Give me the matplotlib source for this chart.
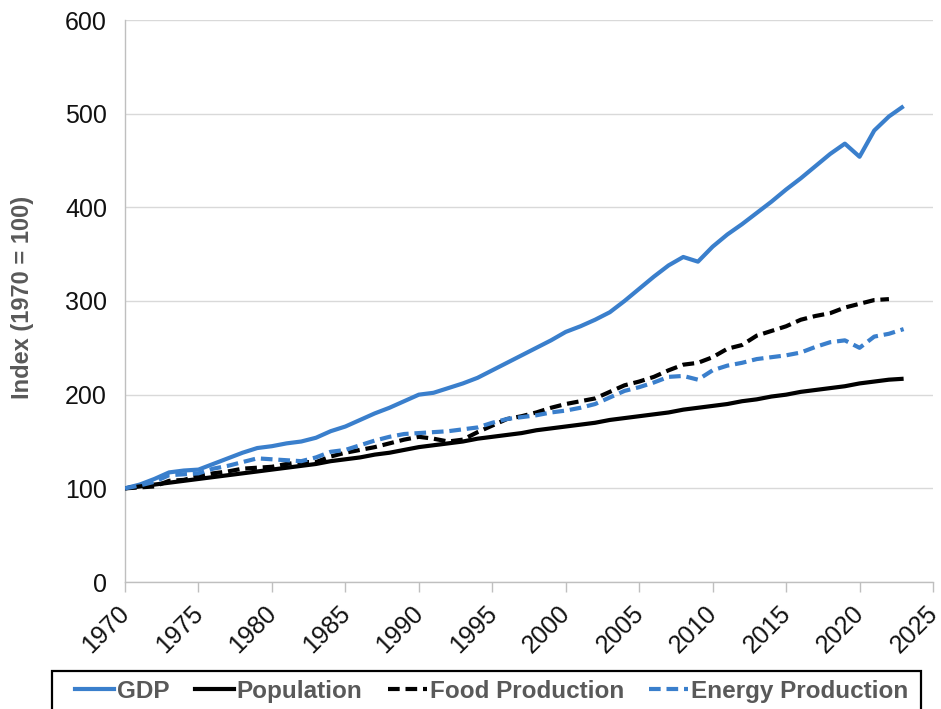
import matplotlib
matplotlib.use("Agg")
import matplotlib.pyplot as plt
from matplotlib.lines import Line2D
from matplotlib.patches import Rectangle
import matplotlib.transforms as mtransforms

years = list(range(1970, 2024))
gdp = [100, 104, 110, 117, 119, 120, 126, 132, 138, 143,
       145, 148, 150, 154, 161, 166, 173, 180, 186, 193,
       200, 202, 207, 212, 218, 226, 234, 242, 250, 258,
       267, 273, 280, 288, 300, 313, 326, 338, 347, 342,
       358, 371, 382, 394, 406, 419, 431, 444, 457, 468,
       454, 482, 497, 508]
population = [100, 102, 104, 106, 108, 110, 112, 114, 116, 118,
              120, 122, 124, 126, 129, 131, 133, 136, 138, 141,
              144, 146, 148, 150, 153, 155, 157, 159, 162, 164,
              166, 168, 170, 173, 175, 177, 179, 181, 184, 186,
              188, 190, 193, 195, 198, 200, 203, 205, 207, 209,
              212, 214, 216, 217]
food_years = list(range(1970, 2023))
food = [100, 101, 102, 108, 109, 113, 116, 118, 121, 122,
        123, 126, 128, 128, 134, 138, 141, 144, 148, 152,
        155, 153, 150, 152, 160, 167, 174, 177, 181, 186,
        190, 193, 196, 203, 210, 214, 219, 226, 232, 234,
        240, 249, 253, 263, 268, 273, 280, 284, 287, 293,
        297, 301, 302]
energy = [100, 103, 107, 114, 115, 116, 121, 124, 128, 132,
          131, 130, 129, 133, 139, 141, 146, 151, 155, 158,
          159, 160, 161, 163, 165, 170, 174, 176, 178, 181,
          183, 186, 190, 197, 204, 208, 213, 219, 220, 216,
          226, 231, 234, 238, 240, 242, 245, 251, 256, 258,
          250, 262, 265, 270]

series_labels = ["GDP", "Population", "Food Production", "Energy Production"]
xticks = list(range(1970, 2026, 5))
yticks = list(range(0, 601, 100))

BLUE = "#3a7fcc"
GRAY_TXT = "#595959"
LW = 3.0
DASH = (0, (2.8, 1.4))

plt.rcParams["font.family"] = ["Liberation Sans", "DejaVu Sans"]

W, H = 941, 709
fig = plt.figure(figsize=(W/100, H/100), dpi=100)
ax = fig.add_axes([125/W, 1-582/H, (933-125)/W, (582-20)/H])

ax.plot(years, gdp, color=BLUE, lw=LW, solid_capstyle="butt", zorder=3)
ax.plot(years, population, color="black", lw=LW, solid_capstyle="butt", zorder=3)
ax.plot(food_years, food, color="black", lw=LW, linestyle=DASH, dash_capstyle="butt", zorder=3)
ax.plot(years, energy, color=BLUE, lw=LW, linestyle=DASH, dash_capstyle="butt", zorder=4)

ax.set_xlim(1970, 2025)
ax.set_ylim(0, 600)
ax.set_xticks(xticks)
ax.set_yticks(yticks)
ax.set_xticklabels([str(t) for t in xticks], rotation=45, ha="right", va="center",
                   rotation_mode="anchor", fontsize=18, color="#111111")
ax.set_yticklabels([str(t) for t in yticks], fontsize=18, color="#111111")
ax.tick_params(axis="y", length=0, pad=13)
ax.tick_params(axis="x", length=7, width=1, color="#bfbfbf", pad=10)
offset = mtransforms.ScaledTranslation(0.01, -0.04, fig.dpi_scale_trans)
for lab in ax.get_xticklabels():
    lab.set_transform(lab.get_transform() + offset)
ax.grid(axis="y", color="#d9d9d9", lw=1)
ax.set_axisbelow(True)
for s in ["top", "right"]:
    ax.spines[s].set_visible(False)
for s in ["left", "bottom"]:
    ax.spines[s].set_color("#bfbfbf")
    ax.spines[s].set_linewidth(1)

ax.set_ylabel("Index (1970 = 100)", fontsize=17, fontweight="bold", color=GRAY_TXT)
ax.yaxis.set_label_coords(-(125-34)/808, (582-297)/562)

# legend frame (bottom edge falls outside the image, as in the reference)
fig.patches.append(Rectangle((52/W, -0.05), (921-52)/W, 0.05 + 1-671/H,
                             transform=fig.transFigure, fill=False,
                             edgecolor="black", linewidth=1.6, zorder=5))

handles = [
    Line2D([], [], color=BLUE, lw=LW),
    Line2D([], [], color="black", lw=LW),
    Line2D([], [], color="black", lw=LW, linestyle=DASH),
    Line2D([], [], color=BLUE, lw=LW, linestyle=DASH),
]
leg = fig.legend(handles, series_labels, loc="upper left", bbox_to_anchor=(75/W, 1-680/H),
                 ncol=4, frameon=False, handlelength=1.6, handletextpad=0.12,
                 columnspacing=1.05, borderpad=0, borderaxespad=0,
                 prop={"family": ["Liberation Sans", "DejaVu Sans"], "weight": "bold", "size": 17.5})
for t in leg.get_texts():
    t.set_color(GRAY_TXT)

fig.savefig("out.png", dpi=100)
